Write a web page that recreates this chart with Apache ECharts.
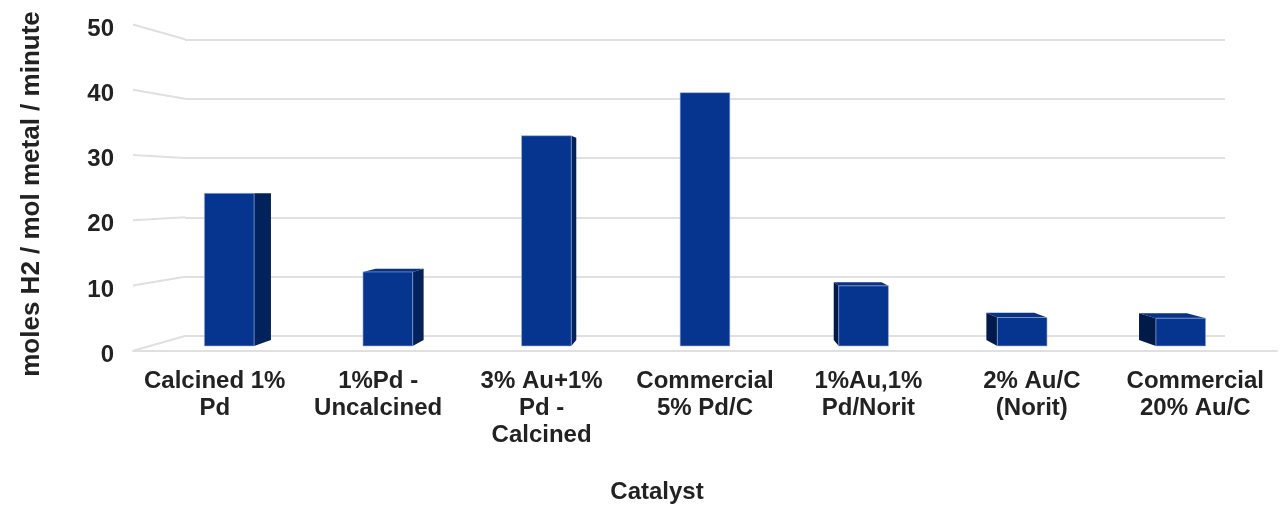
<!DOCTYPE html>
<html>
<head>
<meta charset="utf-8">
<script src="https://cdn.jsdelivr.net/npm/echarts/dist/echarts.min.js"></script>
<style>
  html, body { margin: 0; padding: 0; background: #ffffff; }
  #chart { width: 1283px; height: 506px; }
</style>
</head>
<body>
<div id="chart"></div>
<script>
// ---- data ----
const categories = [
  'Calcined 1%\nPd',
  '1%Pd -\nUncalcined',
  '3% Au+1%\nPd -\nCalcined',
  'Commercial\n5% Pd/C',
  '1%Au,1%\nPd/Norit',
  '2% Au/C\n(Norit)',
  'Commercial\n20% Au/C'
];
const rates = [24.1, 11.7, 33.2, 40, 9.5, 4.5, 4.4];
const yTicks = [0, 10, 20, 30, 40, 50];
const yTitle = 'moles H2 / mol metal / minute';
const xTitle = 'Catalyst';

// ---- 3-D layout: back wall grid, projected toward the viewer from a vanishing point ----
const W = 1283, H = 506;
const wall = { left: 185, right: 58, top: 39.3, bottom: 170 };
const vp = [(wall.left + W - wall.right) / 2, (wall.top + H - wall.bottom) / 2];
const K_FRONT = 1.1;        // front edge of the floor
const K_BAR_FRONT = 1.0674; // front face of the columns
const K_BAR_BACK = 1.0275;  // back face of the columns
const BAR_FRACTION = 0.3135;

function proj(p, k) {
  return [vp[0] + k * (p[0] - vp[0]), vp[1] + k * (p[1] - vp[1])];
}
const fTL = proj([wall.left, wall.top], K_FRONT);
const fBR = proj([W - wall.right, H - wall.bottom], K_FRONT);
const front = { left: fTL[0], top: fTL[1], right: W - fBR[0], bottom: H - fBR[1] };

const FONT = '"Liberation Sans", Arial, Helvetica, sans-serif';
const TEXT = '#222222';
const GRID_LINE = '#e0e0e0';

const COL_FRONT = '#06358f';
const COL_SIDE_R = '#02225c';
const COL_SIDE_L = '#011a4a';
const COL_TOP = '#0a3182';

const chart = echarts.init(document.getElementById('chart'), null, { renderer: 'canvas' });

function renderWall(params, api) {
  const v = api.value(1);
  const y = api.coord([0, v])[1];
  const back = [params.coordSys.x, y];
  const fr = proj(back, K_FRONT);
  return {
    type: 'line',
    shape: { x1: fr[0], y1: fr[1], x2: back[0], y2: back[1] },
    style: { stroke: GRID_LINE, lineWidth: 2 }
  };
}

function renderColumn(params, api) {
  const i = api.value(0);
  const v = api.value(1);
  const base = api.coord([i, 0]);
  const top = api.coord([i, v]);
  const half = api.size([1, 0])[0] * BAR_FRACTION / 2;
  const L = base[0] - half, R = base[0] + half;
  const yb = base[1], yt = top[1];

  const f = {
    tl: proj([L, yt], K_BAR_FRONT), tr: proj([R, yt], K_BAR_FRONT),
    br: proj([R, yb], K_BAR_FRONT), bl: proj([L, yb], K_BAR_FRONT)
  };
  const b = {
    tl: proj([L, yt], K_BAR_BACK), tr: proj([R, yt], K_BAR_BACK),
    br: proj([R, yb], K_BAR_BACK), bl: proj([L, yb], K_BAR_BACK)
  };
  const children = [];
  if (R < vp[0] - 0.5) {
    children.push({ type: 'polygon', shape: { points: [f.tr, b.tr, b.br, f.br] },
      style: { fill: COL_SIDE_R } });
  }
  if (L > vp[0] + 0.5) {
    children.push({ type: 'polygon', shape: { points: [f.tl, b.tl, b.bl, f.bl] },
      style: { fill: COL_SIDE_L } });
  }
  if (yt > vp[1]) {
    children.push({ type: 'polygon', shape: { points: [f.tl, f.tr, b.tr, b.tl] },
      style: { fill: COL_TOP } });
  }
  children.push({ type: 'polygon', shape: { points: [f.tl, f.tr, f.br, f.bl] },
    style: { fill: COL_FRONT, stroke: 'rgba(160,180,225,0.75)', lineWidth: 0.8 } });
  return { type: 'group', children: children };
}

const option = {
  backgroundColor: '#ffffff',
  animation: false,
  grid: [
    { left: wall.left, right: wall.right, top: wall.top, bottom: wall.bottom },
    { left: front.left, right: front.right, top: front.top, bottom: front.bottom }
  ],
  xAxis: [
    {
      gridIndex: 0, type: 'category', data: categories,
      axisLine: { show: false }, axisTick: { show: false }, axisLabel: { show: false },
      splitLine: { show: false }
    },
    {
      gridIndex: 1, type: 'category', data: categories,
      axisLine: { show: true, lineStyle: { color: GRID_LINE, width: 2 } },
      axisTick: { show: false },
      axisLabel: {
        interval: 0, margin: 17, color: TEXT, fontFamily: FONT,
        fontSize: 24, fontWeight: 'bold', lineHeight: 27
      }
    }
  ],
  yAxis: [
    {
      gridIndex: 0, type: 'value', min: 0, max: 50, interval: 10,
      axisLine: { show: false }, axisTick: { show: false }, axisLabel: { show: false },
      splitLine: { lineStyle: { color: GRID_LINE, width: 2 } }
    },
    {
      gridIndex: 1, type: 'value', min: 0, max: 50, interval: 10,
      axisLine: { show: false }, axisTick: { show: false },
      splitLine: { show: false },
      axisLabel: {
        margin: 19, formatter: '{t|{value}}',
        rich: {
          t: {
            color: TEXT, fontFamily: FONT, fontSize: 24, fontWeight: 'bold',
            padding: [9, 0, 0, 0]
          }
        }
      }
    }
  ],
  series: [
    {
      name: 'wall', type: 'custom', xAxisIndex: 0, yAxisIndex: 0,
      data: yTicks.map(function (t) { return [0, t]; }),
      renderItem: renderWall, silent: true, z: 1
    },
    {
      name: 'rate', type: 'custom', xAxisIndex: 0, yAxisIndex: 0,
      data: rates.map(function (r, i) { return [i, r]; }),
      renderItem: renderColumn, z: 3
    }
  ],
  graphic: [
    {
      type: 'text', x: 32, y: 194, rotation: Math.PI / 2,
      style: {
        text: yTitle, align: 'center', verticalAlign: 'middle',
        font: 'bold 26px ' + FONT, fill: TEXT
      }
    },
    {
      type: 'text', x: 657, y: 492,
      style: {
        text: xTitle, align: 'center', verticalAlign: 'middle',
        font: 'bold 24px ' + FONT, fill: TEXT
      }
    }
  ]
};

chart.setOption(option);
</script>
</body>
</html>
